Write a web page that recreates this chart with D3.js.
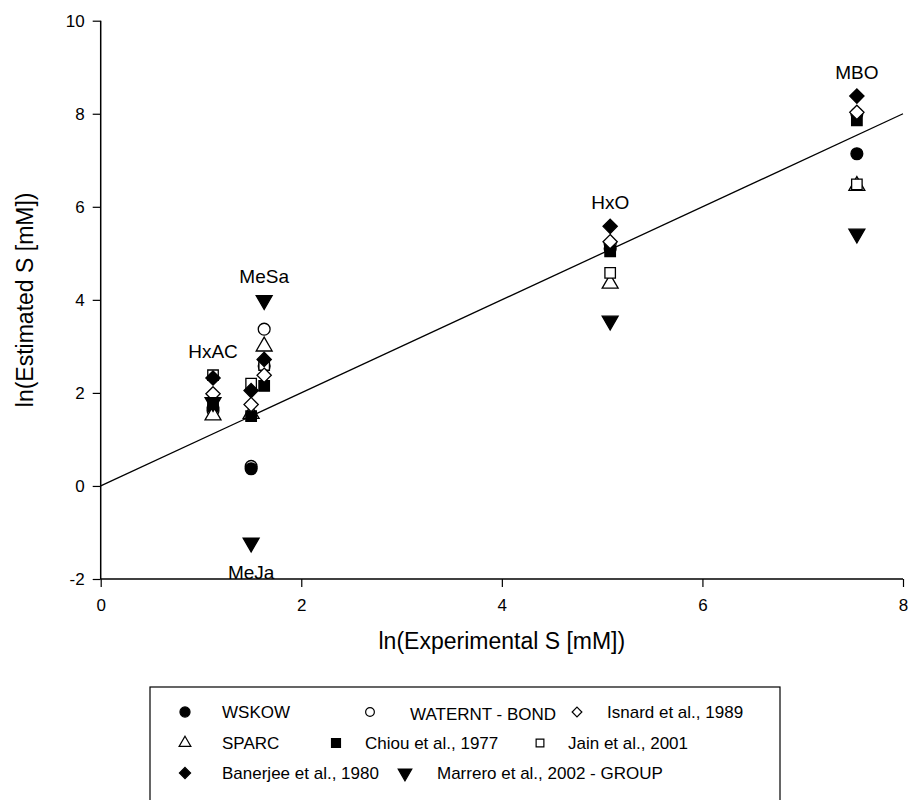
<!DOCTYPE html>
<html>
<head>
<meta charset="utf-8">
<script src="https://cdn.jsdelivr.net/npm/d3@7"></script>
<style>
  body { margin: 0; background: #fff; }
  text { font-family: "Liberation Sans", Arial, sans-serif; }
</style>
</head>
<body>
<div id="chart"></div>
<script>
// compounds and their experimental ln(S)
var compounds = ['HxAC', 'MeJa', 'MeSa', 'HxO', 'MBO'];
var expS = [1.12, 1.50, 1.63, 5.08, 7.54];
var labelSide = ['top', 'bottom', 'top', 'top', 'top'];

// estimated ln(S) per method, same order as compounds
var wskow    = [1.68, 0.37, 2.58, 5.10, 7.14];
var waternt  = [1.62, 0.42, 3.37, 5.20, 8.00];
var isnard   = [1.98, 1.75, 2.38, 5.25, 8.03];
var sparc    = [1.52, 1.55, 3.00, 4.35, 6.45];
var chiou    = [1.76, 1.50, 2.15, 5.04, 7.86];
var jain     = [2.38, 2.20, 2.60, 4.58, 6.48];
var banerjee = [2.32, 2.05, 2.72, 5.58, 8.38];
var marrero  = [1.80, -1.22, 3.99, 3.55, 5.42];

var xTicks = [0, 2, 4, 6, 8];
var yTicks = [-2, 0, 2, 4, 6, 8, 10];

var series = [
    {name: 'WSKOW', values: wskow, shape: d3.symbolCircle, filled: true},
    {name: 'WATERNT - BOND', values: waternt, shape: d3.symbolCircle, filled: false},
    {name: 'Isnard et al., 1989', values: isnard, shape: d3.symbolDiamond2, filled: false},
    {name: 'SPARC', values: sparc, shape: d3.symbolTriangle, filled: false},
    {name: 'Chiou et al., 1977', values: chiou, shape: d3.symbolSquare, filled: true},
    {name: 'Jain et al., 2001', values: jain, shape: d3.symbolSquare, filled: false},
    {name: 'Banerjee et al., 1980', values: banerjee, shape: d3.symbolDiamond2, filled: true},
    {name: 'Marrero et al., 2002 - GROUP', values: marrero, shape: d3.symbolTriangle, filled: true, down: true}
];
// order the points are painted in
var drawOrder = [1, 0, 3, 4, 5, 6, 2, 7];

var width = 909, height = 800;
var svg = d3.select('#chart').append('svg')
    .attr('width', width)
    .attr('height', height);

var x = d3.scaleLinear().domain([0, 8]).range([100.7, 903]);
var y = d3.scaleLinear().domain([-2, 10]).range([579, 20.7]);

// axes
var xAxis = svg.append('g')
    .attr('transform', 'translate(0,' + y(-2) + ')')
    .call(d3.axisBottom(x).tickValues(xTicks).tickSize(8).tickPadding(12).tickFormat(String));
var yAxis = svg.append('g')
    .attr('transform', 'translate(' + x(0) + ',0)')
    .call(d3.axisLeft(y).tickValues(yTicks).tickSize(8).tickPadding(8).tickFormat(String));

[xAxis, yAxis].forEach(function(a) {
    a.selectAll('.tick line').attr('stroke', '#000').attr('stroke-width', 1.2);
    a.selectAll('.tick text').style('font-size', '17px').attr('fill', '#000');
    a.select('.domain').attr('stroke', '#000').attr('stroke-width', 1.5);
});
xAxis.select('.domain').attr('d', 'M' + x(0) + ',0H' + x(8));
yAxis.select('.domain').attr('d', 'M0,' + y(-2) + 'V' + y(10));

// axis titles
svg.append('text')
    .attr('x', (x(0) + x(8)) / 2)
    .attr('y', 649)
    .attr('text-anchor', 'middle')
    .style('font-size', '23px')
    .text('ln(Experimental S [mM])');
svg.append('text')
    .attr('transform', 'translate(33,' + ((y(-2) + y(10)) / 2) + ') rotate(-90)')
    .attr('text-anchor', 'middle')
    .style('font-size', '23px')
    .text('ln(Estimated S [mM])');

// 1:1 line
svg.append('line')
    .attr('x1', x(0)).attr('y1', y(0))
    .attr('x2', x(8)).attr('y2', y(8))
    .attr('stroke', '#000')
    .attr('stroke-width', 1.3);

function shapePath(s, size) {
    return d3.symbol().type(s.shape).size(size)();
}
function transformFor(s, px, py) {
    return 'translate(' + px + ',' + py + ')' + (s.down ? ' rotate(180)' : '');
}

// points
drawOrder.forEach(function(si) {
    var s = series[si];
    svg.append('g').selectAll('path')
        .data(s.values)
        .join('path')
        .attr('d', shapePath(s, s.shape === d3.symbolDiamond2 ? 130 : 110))
        .attr('transform', function(v, i) { return transformFor(s, x(expS[i]), y(v)); })
        .attr('fill', s.filled ? '#000' : '#fff')
        .attr('stroke', '#000')
        .attr('stroke-width', 1.3);
});

// compound labels
compounds.forEach(function(c, i) {
    var vals = series.map(function(s) { return s.values[i]; });
    var ly = labelSide[i] === 'top' ? y(d3.max(vals)) - 17 : y(d3.min(vals)) + 36;
    svg.append('text')
        .attr('x', x(expS[i]))
        .attr('y', ly)
        .attr('text-anchor', 'middle')
        .style('font-size', '19px')
        .text(c);
});

// legend
var legend = svg.append('g');
legend.append('rect')
    .attr('x', 150).attr('y', 687)
    .attr('width', 630).attr('height', 130)
    .attr('fill', '#fff')
    .attr('stroke', '#000')
    .attr('stroke-width', 1.2);

// symbol x, text x, row y
var legendPos = [
    [185, 222, 712], [370, 410, 712], [577, 607, 712],
    [185, 222, 743], [336, 365, 743], [540, 568, 743],
    [185, 222, 773], [405, 437, 773]
];
series.forEach(function(s, i) {
    var p = legendPos[i];
    legend.append('path')
        .attr('d', shapePath(s, s.filled ? 80 : 60))
        .attr('transform', transformFor(s, p[0], p[2]))
        .attr('fill', s.filled ? '#000' : '#fff')
        .attr('stroke', '#000')
        .attr('stroke-width', 1.2);
    legend.append('text')
        .attr('x', p[1])
        .attr('y', p[2] + (i === 1 ? 8 : 6))
        .style('font-size', '17px')
        .text(s.name);
});
</script>
</body>
</html>
